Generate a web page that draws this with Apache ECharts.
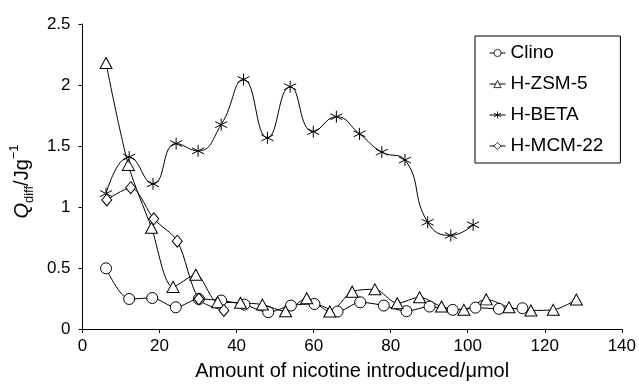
<!DOCTYPE html>
<html>
<head>
<meta charset="utf-8">
<script src="https://cdn.jsdelivr.net/npm/echarts@6/dist/echarts.min.js"></script>
<style>
html,body{margin:0;padding:0;background:#fff;}
#chart{width:639px;height:386px;}
</style>
</head>
<body>
<div id="chart"></div>
<script>
// Data
var clinoX = [6.1, 12.1, 18.1, 24.2, 30.2, 36.0, 42.0, 48.2, 54.1, 60.2, 66.2, 72.1, 78.2, 84.1, 90.1, 96.1, 102.0, 108.1, 114.2];
var clinoY = [0.497, 0.246, 0.254, 0.178, 0.246, 0.233, 0.200, 0.138, 0.192, 0.205, 0.143, 0.219, 0.192, 0.146, 0.184, 0.157, 0.175, 0.165, 0.170];

var zsmX = [6.1, 11.9, 17.9, 23.5, 29.4, 35.1, 41.0, 46.7, 52.7, 58.2, 64.2, 70.0, 75.9, 81.7, 87.5, 93.2, 99.0, 104.8, 110.7, 116.4, 122.2, 128.2];
var zsmY = [2.18, 1.345, 0.83, 0.345, 0.444, 0.22, 0.215, 0.200, 0.146, 0.252, 0.144, 0.306, 0.325, 0.211, 0.260, 0.184, 0.157, 0.243, 0.178, 0.152, 0.157, 0.241];

var betaX = [6.1, 12.1, 18.3, 24.3, 30.0, 36.0, 41.8, 48.0, 53.9, 59.9, 65.9, 71.9, 77.7, 83.7, 89.6, 95.6, 101.4];
var betaY = [1.11, 1.41, 1.19, 1.52, 1.46, 1.675, 2.045, 1.567, 1.986, 1.618, 1.74, 1.60, 1.45, 1.385, 0.875, 0.767, 0.854];

var mcmX = [6.3, 12.5, 18.5, 24.6, 30.2, 36.7];
var mcmY = [1.058, 1.158, 0.903, 0.72, 0.246, 0.152];

var xTicks = {min: 0, max: 140, interval: 20};
var yTicks = {min: 0, max: 2.5, interval: 0.5};

function pairs(xs, ys) { return xs.map(function (x, i) { return [x, ys[i]]; }); }

var FONT = '"Liberation Sans", Arial, sans-serif';
var asterisk = 'path://M6,0 L6,12 M0.8,3 L11.2,9 M0.8,9 L11.2,3';

function mk(name, xs, ys, symbol, size, smooth) {
  return {
    name: name, type: 'line', data: pairs(xs, ys),
    smooth: smooth, symbol: symbol, symbolSize: size, showSymbol: true,
    lineStyle: {color: '#000', width: 1},
    itemStyle: {color: '#fff', borderColor: '#000', borderWidth: 1},
    emphasis: {disabled: true}, animation: false
  };
}

var chart = echarts.init(document.getElementById('chart'), null, {renderer: 'canvas'});
chart.setOption({
  animation: false,
  backgroundColor: '#fff',
  textStyle: {fontFamily: FONT},
  grid: {left: 76, right: 16, top: 24, bottom: 54},
  legend: {
    orient: 'vertical', left: 475, top: 36,
    padding: [7, 17, 7, 14], itemGap: 11, itemWidth: 16, itemHeight: 9,
    borderColor: '#000', borderWidth: 1, backgroundColor: '#fff',
    itemStyle: {borderWidth: 0.8, color: '#fff', borderColor: '#000'},
    lineStyle: {width: 1, color: '#000'},
    textStyle: {fontFamily: FONT, fontSize: 19, color: '#000', lineHeight: 20},
    data: ['Clino', 'H-ZSM-5', 'H-BETA', 'H-MCM-22']
  },
  xAxis: {
    type: 'value', min: xTicks.min, max: xTicks.max, interval: xTicks.interval,
    name: 'Amount of nicotine introduced/\u03bcmol', nameLocation: 'middle', nameGap: 32,
    nameTextStyle: {fontFamily: FONT, fontSize: 20, color: '#000'},
    axisLine: {lineStyle: {color: '#000', width: 1}},
    axisTick: {show: true, inside: false, length: 4, lineStyle: {color: '#000'}},
    axisLabel: {fontFamily: FONT, fontSize: 17, color: '#000', margin: 9},
    splitLine: {show: false}
  },
  yAxis: {
    type: 'value', min: yTicks.min, max: yTicks.max, interval: yTicks.interval,
    name: '{q|Q}{sub|diff}{b|/Jg}{sup|\u22121}', nameLocation: 'middle', nameGap: 37, nameRotate: 90,
    nameTextStyle: {
      fontFamily: FONT, color: '#000', padding: [0, 10, 0, 0],
      rich: {
        q: {fontFamily: FONT, fontSize: 20, fontStyle: 'italic', lineHeight: 28, verticalAlign: 'middle', color: '#000'},
        b: {fontFamily: FONT, fontSize: 20, lineHeight: 28, verticalAlign: 'middle', color: '#000'},
        sub: {fontFamily: FONT, fontSize: 13, lineHeight: 13, verticalAlign: 'bottom', color: '#000'},
        sup: {fontFamily: FONT, fontSize: 13, lineHeight: 13, verticalAlign: 'top', color: '#000'}
      }
    },
    axisLine: {show: true, lineStyle: {color: '#000', width: 1}},
    axisTick: {show: true, inside: false, length: 4, lineStyle: {color: '#000'}},
    axisLabel: {fontFamily: FONT, fontSize: 17, color: '#000', margin: 12},
    splitLine: {show: false}
  },
  series: [
    mk('Clino', clinoX, clinoY, 'circle', 11, 0.3),
    mk('H-ZSM-5', zsmX, zsmY, 'triangle', [12, 11], 0.3),
    mk('H-BETA', betaX, betaY, asterisk, 12, 0.5),
    mk('H-MCM-22', mcmX, mcmY, 'diamond', [10, 12], 0.3)
  ]
});
</script>
</body>
</html>
